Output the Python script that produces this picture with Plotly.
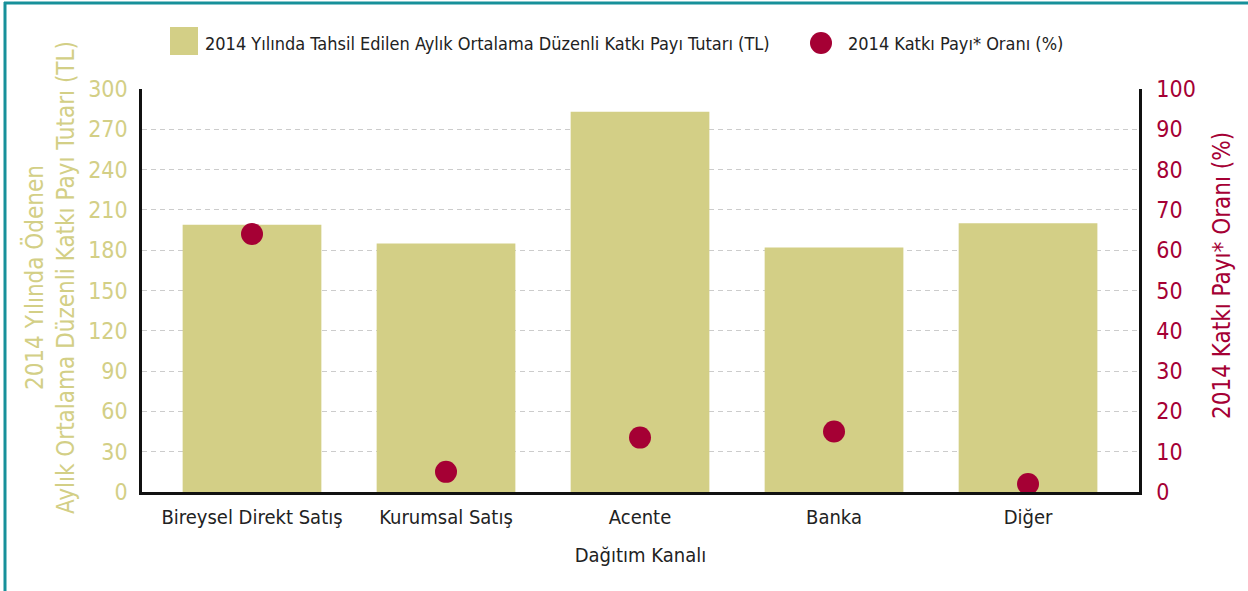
import plotly.graph_objects as go

# Data
categories = ["Bireysel Direkt Satış", "Kurumsal Satış", "Acente", "Banka", "Diğer"]
avg_contribution_tl = [199, 185, 283, 182, 200]
contribution_share_pct = [64, 5, 13.5, 15, 2]
left_ticks = [0, 30, 60, 90, 120, 150, 180, 210, 240, 270, 300]
right_ticks = [0, 10, 20, 30, 40, 50, 60, 70, 80, 90, 100]

bar_name = "2014 Yılında Tahsil Edilen Aylık Ortalama Düzenli Katkı Payı Tutarı (TL)"
dot_name = "2014 Katkı Payı* Oranı (%)"

FONT = "DejaVu Sans Condensed, DejaVu Sans, sans-serif"
KHAKI = "#d3cf86"
CRIMSON = "#a50034"
TEAL = "#17909a"
TEXT = "#222222"

W, H = 1248, 591
L, R, T, B = 142, 109, 89, 99
PW, PH = W - L - R, H - T - B


def px(x):
    return (x - L) / PW


def py(y):
    return (H - B - y) / PH


fig = go.Figure()
fig.add_trace(go.Bar(
    x=categories, y=avg_contribution_tl, name=bar_name,
    marker=dict(color=KHAKI, line=dict(width=0)), width=0.715,
    yaxis="y", showlegend=False,
))
fig.add_trace(go.Scatter(
    x=categories, y=contribution_share_pct, name=dot_name, mode="markers",
    marker=dict(color=CRIMSON, size=22), yaxis="y2", showlegend=False,
))

fig.update_layout(
    width=W, height=H,
    margin=dict(l=L, r=R, t=T, b=B),
    paper_bgcolor="white", plot_bgcolor="white",
    font=dict(family=FONT, color=TEXT),
    bargap=0.2,
    xaxis=dict(
        type="category", range=[-0.567, 4.572],
        showline=True, linecolor="#111111", linewidth=3,
        showgrid=False, ticks="", tickfont=dict(size=20, color=TEXT),
        ticklabelstandoff=5,
        title=dict(text="Dağıtım Kanalı", font=dict(size=20, color=TEXT), standoff=20),
    ),
    yaxis=dict(
        range=[0, 300], tickvals=left_ticks, showline=True,
        linecolor="#111111", linewidth=2.5,
        showgrid=True, gridcolor="#cccccc", gridwidth=1, griddash="5px,4px",
        zeroline=False, ticks="", tickfont=dict(size=23, color=KHAKI),
        ticklabelstandoff=7,
    ),
    yaxis2=dict(
        range=[0, 100], tickvals=right_ticks, overlaying="y", side="right",
        showline=True, linecolor="#111111", linewidth=2.5,
        showgrid=False, zeroline=False, ticks="",
        tickfont=dict(size=23, color=CRIMSON), ticklabelstandoff=10,
    ),
)

# Axis titles
fig.add_annotation(
    x=px(50), y=py(278), xref="paper", yref="paper",
    xanchor="center", yanchor="middle",
    text="2014 Yılında Ödenen<br>Aylık Ortalama Düzenli Katkı Payı Tutarı (TL)",
    textangle=-90, showarrow=False, align="center",
    font=dict(size=24, color=KHAKI, family=FONT),
)
fig.add_annotation(
    x=px(1222), y=py(276), xref="paper", yref="paper",
    xanchor="center", yanchor="middle",
    text=dot_name, textangle=-90, showarrow=False,
    font=dict(size=24, color=CRIMSON, family=FONT),
)

# Legend
fig.add_shape(type="rect", xref="paper", yref="paper",
              x0=px(170), x1=px(198), y0=py(55), y1=py(27),
              fillcolor=KHAKI, line=dict(width=0))
fig.add_annotation(x=px(203), y=py(43), xref="paper", yref="paper",
                   text=bar_name, showarrow=False, xanchor="left", yanchor="middle",
                   font=dict(size=18, color=TEXT, family=FONT))
fig.add_shape(type="circle", xref="paper", yref="paper",
              x0=px(810), x1=px(832), y0=py(54), y1=py(32),
              fillcolor=CRIMSON, line=dict(width=0))
fig.add_annotation(x=px(846), y=py(43), xref="paper", yref="paper",
                   text=dot_name, showarrow=False, xanchor="left", yanchor="middle",
                   font=dict(size=18, color=TEXT, family=FONT))

# Frame (top and left edges)
fig.add_shape(type="line", xref="paper", yref="paper",
              x0=px(4), x1=px(W + 5), y0=py(3), y1=py(3),
              line=dict(color=TEAL, width=3))
fig.add_shape(type="line", xref="paper", yref="paper",
              x0=px(5), x1=px(5), y0=py(2), y1=py(H + 5),
              line=dict(color=TEAL, width=3))

fig.write_html("out.html")
